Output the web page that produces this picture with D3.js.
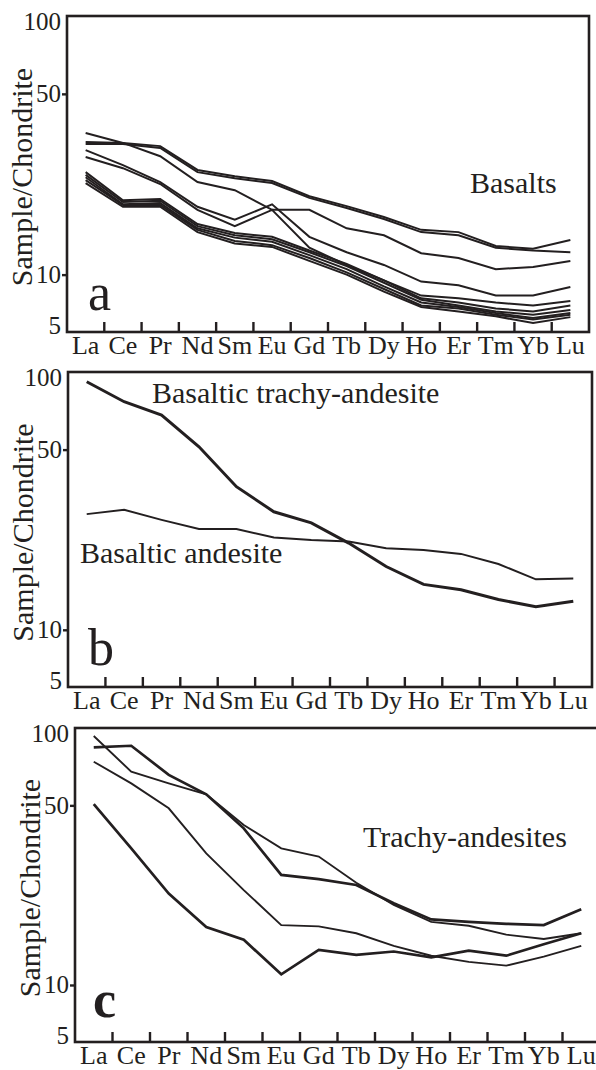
<!DOCTYPE html>
<html lang="en">
<head>
<meta charset="utf-8">
<style>
  body { margin: 0; background: white; }
  svg { display: block; background: white; }
  .frame { fill: none; stroke: #231f20; stroke-width: 2.6px; }
  .ree { fill: none; stroke: #231f20; stroke-linejoin: miter; }
  .tick-in { stroke: #231f20; stroke-width: 2.4px; }
  text { font-family: "Liberation Serif", "Times New Roman", serif; fill: #231f20; }
  .ylab text { font-size: 25px; }
  .xlab text { font-size: 26px; }
  .note { font-size: 30px; }
  .ytitle { font-size: 30px; }
  .letter { font-size: 52px; }
</style>
<script src="https://d3js.org/d3.v7.min.js"></script>
</head>
<body>
<script>
// REE order on the x axis
var elements = ["La", "Ce", "Pr", "Nd", "Sm", "Eu", "Gd", "Tb", "Dy", "Ho", "Er", "Tm", "Yb", "Lu"];
var yTicks = [100, 50, 10, 5];

// a) basalts
var basalt1 = [32.6, 32.3, 31.4, 25.4, 24.0, 23.0, 20.1, 18.4, 16.7, 14.9, 14.6, 12.9, 12.6, 13.6];
var basalt2 = [32.0, 32.0, 30.9, 24.9, 23.6, 22.6, 19.8, 18.1, 16.4, 14.6, 14.2, 12.7, 12.4, 12.2];
var basalt3 = [35.3, 32.3, 28.7, 22.8, 21.2, 17.8, 17.8, 15.1, 14.2, 12.1, 11.6, 10.5, 10.7, 11.3];
var basalt4 = [30.3, 26.5, 22.8, 18.3, 16.3, 18.7, 14.0, 12.2, 10.9, 9.4, 9.1, 8.3, 8.3, 8.96];
var basalt5 = [28.5, 25.8, 22.4, 17.8, 15.4, 17.8, 12.7, 10.9, 9.5, 8.3, 8.1, 7.8, 7.6, 7.9];
var basalt6 = [24.9, 19.4, 19.6, 15.7, 14.5, 14.0, 12.4, 11.0, 9.5, 8.1, 7.8, 7.4, 7.2, 7.6];
var basalt7 = [24.3, 19.1, 19.3, 15.4, 14.2, 13.7, 12.2, 10.8, 9.3, 8.0, 7.6, 7.2, 7.0, 7.3];
var basalt8 = [23.8, 18.7, 18.9, 15.1, 13.9, 13.4, 11.9, 10.5, 9.0, 7.8, 7.5, 7.1, 6.8, 7.1];
var basalt9 = [23.2, 18.6, 18.6, 14.9, 13.5, 13.0, 11.6, 10.2, 8.8, 7.6, 7.4, 7.0, 6.7, 7.0];
var basalt10 = [22.6, 18.3, 18.3, 14.6, 13.2, 12.8, 11.3, 10.0, 8.6, 7.5, 7.2, 6.9, 6.5, 6.85];

// b) basaltic trachy-andesite and basaltic andesite
var basalticTrachyAndesite = [91.7, 76.7, 68.1, 51.3, 35.9, 28.7, 26.0, 21.7, 17.6, 15.0, 14.3, 13.1, 12.3, 12.9];
var basalticAndesite = [28.1, 29.2, 26.7, 24.6, 24.6, 22.8, 22.3, 22.0, 20.7, 20.4, 19.7, 18.0, 15.7, 15.8];

// c) trachy-andesites
var trachy1 = [84.1, 85.3, 65.7, 55.2, 40.7, 26.8, 25.8, 24.5, 20.8, 18.0, 17.6, 17.3, 17.1, 19.7];
var trachy2 = [93.1, 67.6, 60.9, 55.2, 41.9, 34.0, 31.6, 25.0, 20.5, 17.6, 17.0, 15.7, 15.1, 15.9];
var trachy3 = [73.9, 60.9, 48.7, 32.5, 23.4, 17.1, 16.9, 15.9, 14.2, 13.0, 12.3, 11.9, 12.9, 14.2];
var trachy4 = [50.6, 34.0, 22.7, 16.8, 15.0, 11.0, 13.7, 13.1, 13.5, 12.8, 13.6, 13.0, 14.4, 15.9];

var width = 596, height = 1070;

var svg = d3.select("body").append("svg")
    .attr("width", width)
    .attr("height", height);

var panels = [
  { left: 67, right: 589, top: 16, bottom: 332, letter: "a", letterX: 88, letterY: 310, bold: false,
    series: [basalt1, basalt2, basalt3, basalt4, basalt5, basalt6, basalt7, basalt8, basalt9, basalt10],
    widths: [2, 2, 2, 2, 2, 2, 2, 2, 2, 2],
    notes: [{ t: "Basalts", x: 470, y: 193 }] },
  { left: 68, right: 592, top: 372, bottom: 687, letter: "b", letterX: 88, letterY: 665, bold: false,
    series: [basalticTrachyAndesite, basalticAndesite],
    widths: [3, 2],
    notes: [{ t: "Basaltic trachy-andesite", x: 152, y: 403 }, { t: "Basaltic andesite", x: 80, y: 563 }] },
  { left: 75, right: 600, top: 728, bottom: 1042, letter: "c", letterX: 93, letterY: 1017, bold: true,
    series: [trachy1, trachy2, trachy3, trachy4],
    widths: [2.7, 1.9, 1.9, 2.7],
    notes: [{ t: "Trachy-andesites", x: 363, y: 847 }] }
];

panels.forEach(function(p) {
  var g = svg.append("g");

  var x = d3.scaleBand().domain(elements).range([p.left, p.right]);
  var y = d3.scaleLog().domain([6, 100]).range([p.bottom, p.top]).clamp(true);

  var line = d3.line()
      .x(function(d, i) { return x(elements[i]) + x.bandwidth() / 2; })
      .y(function(d) { return y(d); });

  // y axis: outward ticks at 50 and 10 only
  var ya = g.append("g").attr("class", "ylab")
      .attr("transform", "translate(" + p.left + ",0)")
      .call(d3.axisLeft(y).tickValues(yTicks).tickFormat(d3.format("d")).tickSize(5).tickPadding(1));
  ya.attr("font-size", null).attr("font-family", null);
  ya.select(".domain").remove();
  ya.selectAll(".tick line").attr("stroke", "#231f20").attr("stroke-width", 2.4)
      .style("display", function(d) { return (d === 100 || d === 5) ? "none" : null; });
  ya.selectAll(".tick text")
      .attr("dy", function(d) { return d === 100 ? "0.55em" : d === 5 ? "0.05em" : "0.32em"; });

  // x axis labels
  var xa = g.append("g").attr("class", "xlab")
      .attr("transform", "translate(0," + p.bottom + ")")
      .call(d3.axisBottom(x).tickSize(0).tickPadding(4));
  xa.attr("font-size", null).attr("font-family", null);
  xa.select(".domain").remove();

  // inward ticks on the band edges
  g.selectAll(".tick-in")
    .data(elements.slice(1))
    .enter().append("line")
      .attr("class", "tick-in")
      .attr("x1", function(d) { return x(d); })
      .attr("x2", function(d) { return x(d); })
      .attr("y1", p.bottom)
      .attr("y2", p.bottom - 10);

  g.selectAll(".ree")
    .data(p.series)
    .enter().append("path")
      .attr("class", "ree")
      .attr("stroke-width", function(d, i) { return p.widths[i]; })
      .attr("d", line);

  g.append("rect")
      .attr("class", "frame")
      .attr("x", p.left)
      .attr("y", p.top)
      .attr("width", p.right - p.left)
      .attr("height", p.bottom - p.top);

  p.notes.forEach(function(n) {
    g.append("text").attr("class", "note").attr("x", n.x).attr("y", n.y).text(n.t);
  });

  g.append("text")
      .attr("class", "letter")
      .attr("x", p.letterX)
      .attr("y", p.letterY)
      .style("font-weight", p.bold ? "bold" : "normal")
      .text(p.letter);

  g.append("text")
      .attr("class", "ytitle")
      .attr("text-anchor", "middle")
      .attr("transform", "translate(" + (p.left - 35) + "," + ((p.top + p.bottom) / 2 + 3) + ") rotate(-90)")
      .text("Sample/Chondrite");
});
</script>
</body>
</html>
